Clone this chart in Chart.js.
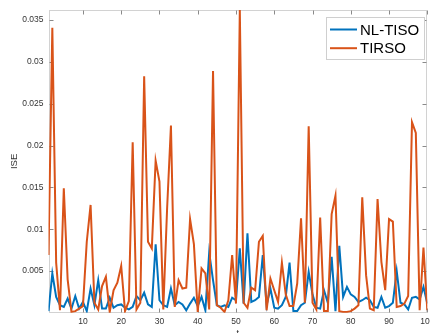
<!DOCTYPE html>
<html><head><meta charset="utf-8">
<script src="https://cdn.jsdelivr.net/npm/chart.js@4/dist/chart.umd.min.js"></script>
<style>
html,body{margin:0;padding:0;background:#fff;overflow:hidden;width:430px;height:333px}
#wrap{position:absolute;left:0;top:0;width:445px;height:350px}
</style>
</head><body><div id="wrap"><canvas id="c" width="445" height="350"></canvas></div>
<script>
const iterations = Array.from({length: 100}, (_, k) => k + 1);
const nlTiso = [
 0.0002, 0.0047, 0.0019, 0.0009, 0.0007, 0.0017, 0.0005, 0.0020, 0.0005, 0.0013,
 0.0002, 0.0029, 0.0009, 0.0039, 0.0005, 0.0005, 0.0018, 0.0006, 0.0009, 0.0010,
 0.0006, 0.0004, 0.0007, 0.0020, 0.0015, 0.0024, 0.0010, 0.0007, 0.0082, 0.0015,
 0.0009, 0.0007, 0.0029, 0.0009, 0.0013, 0.0010, 0.0003, 0.0011, 0.0018, 0.0008,
 0.0019, 0.0003, 0.0072, 0.0039, 0.0009, 0.0007, 0.0009, 0.0007, 0.0018, 0.0015,
 0.0077, 0.0011, 0.0095, 0.0013, 0.0015, 0.0019, 0.0069, 0.0009, 0.0029, 0.0006,
 0.0005, 0.0009, 0.0019, 0.0060, 0.0002, 0.0002, 0.0009, 0.0012, 0.0049, 0.0022,
 0.0006, 0.0005, 0.0027, 0.0012, 0.0067, 0.0002, 0.0080, 0.0019, 0.0031, 0.0022,
 0.0019, 0.0013, 0.0015, 0.0018, 0.0015, 0.0007, 0.0006, 0.0019, 0.0006, 0.0008,
 0.0012, 0.0050, 0.0012, 0.0010, 0.0004, 0.0018, 0.0019, 0.0016, 0.0031, 0.0011
];
const tirso = [
 0.0069, 0.0341, 0.0060, 0.0003, 0.0149, 0.0040, 0.0001, 0.0002, 0.0005, 0.0008,
 0.0085, 0.0129, 0.0012, 0.0004, 0.0032, 0.0043, 0.0001, 0.0027, 0.0036, 0.0056,
 0.0002, 0.0014, 0.0204, 0.0004, 0.0012, 0.0283, 0.0085, 0.0077, 0.0182, 0.0157,
 0.0004, 0.0125, 0.0224, 0.0007, 0.0039, 0.0029, 0.0030, 0.0112, 0.0082, 0.0001,
 0.0053, 0.0047, 0.0004, 0.0289, 0.0009, 0.0006, 0.0001, 0.0015, 0.0069, 0.0011,
 0.0362, 0.0012, 0.0006, 0.0030, 0.0027, 0.0085, 0.0092, 0.0003, 0.0041, 0.0027,
 0.0013, 0.0060, 0.0022, 0.0008, 0.0008, 0.0035, 0.0113, 0.0012, 0.0223, 0.0012,
 0.0004, 0.0114, 0.0002, 0.0002, 0.0118, 0.0140, 0.0002, 0.0001, 0.0001, 0.0002,
 0.0005, 0.0009, 0.0138, 0.0045, 0.0005, 0.0003, 0.0136, 0.0061, 0.0027, 0.0112,
 0.0109, 0.0007, 0.0008, 0.0011, 0.0020, 0.0228, 0.0215, 0.0003, 0.0078, 0.0003
];
const xTicks = [10, 20, 30, 40, 50, 60, 70, 80, 90, 100];
const yTicks = [0.005, 0.01, 0.015, 0.02, 0.025, 0.03, 0.035];
const seriesNames = ['NL-TISO', 'TIRSO'];
const seriesColors = ['#0072BD', '#D95319'];
const xTitle = 't';
const yTitle = 'ISE';

const FONT = "'Liberation Sans', Arial, Helvetica, sans-serif";

const framePlugin = {
  id: 'frame',
  beforeDatasetsDraw(chart) {
    const {ctx, chartArea: {left, right, top, bottom}, scales: {x, y}} = chart;
    const L = Math.round(left) + 0.5, R = Math.round(right) - 0.5;
    const T = Math.round(top) + 0.5, B = Math.round(bottom) - 0.5;
    ctx.save();
    ctx.lineWidth = 1;
    ctx.strokeStyle = '#d2d2d2';
    ctx.strokeRect(L, T, R - L, B - T);
    ctx.strokeStyle = '#8a8a8a';
    ctx.beginPath();
    const tl = 4;
    xTicks.forEach(v => {
      const px = Math.round(x.getPixelForValue(v)) + 0.5;
      ctx.moveTo(px, B); ctx.lineTo(px, B - tl);
      ctx.moveTo(px, T); ctx.lineTo(px, T + tl);
    });
    yTicks.forEach(v => {
      const py = Math.round(y.getPixelForValue(v)) + 0.5;
      ctx.moveTo(L, py); ctx.lineTo(L + tl, py);
      ctx.moveTo(R, py); ctx.lineTo(R - tl, py);
    });
    ctx.stroke();
    ctx.restore();
  }
};

const legendPlugin = {
  id: 'boxLegend',
  afterDatasetsDraw(chart) {
    const {ctx, chartArea: {right, top}} = chart;
    const bx = Math.round(right - 101.5) + 0.5, by = Math.round(top + 6.7) + 0.5;
    const bw = 98, bh = 42;
    ctx.save();
    ctx.fillStyle = '#ffffff';
    ctx.fillRect(bx, by, bw, bh);
    ctx.strokeStyle = '#cfcfcf';
    ctx.lineWidth = 1;
    ctx.strokeRect(bx, by, bw, bh);
    ctx.font = '15px ' + FONT;
    ctx.textBaseline = 'middle';
    ctx.textAlign = 'left';
    seriesNames.forEach((name, k) => {
      const cy = by + 12 + k * 18.7;
      ctx.strokeStyle = seriesColors[k];
      ctx.lineWidth = 2;
      ctx.beginPath();
      ctx.moveTo(bx + 3.5, cy); ctx.lineTo(bx + 30.5, cy);
      ctx.stroke();
      ctx.fillStyle = '#000000';
      ctx.fillText(name, bx + 33.5, cy + 1);
    });
    ctx.restore();
  }
};

new Chart(document.getElementById('c'), {
  type: 'line',
  data: {
    datasets: [
      {label: seriesNames[0], data: iterations.map((t, k) => ({x: t, y: nlTiso[k]})),
       borderColor: seriesColors[0], backgroundColor: seriesColors[0], borderWidth: 2,
       pointRadius: 0, tension: 0, clip: 0, order: 1, fill: false},
      {label: seriesNames[1], data: iterations.map((t, k) => ({x: t, y: tirso[k]})),
       borderColor: seriesColors[1], backgroundColor: seriesColors[1], borderWidth: 2,
       pointRadius: 0, tension: 0, clip: 0, order: 0, fill: false}
    ]
  },
  options: {
    responsive: false,
    animation: false,
    events: [],
    layout: {padding: {left: 0, right: 17.7, top: 10, bottom: 0}},
    plugins: {legend: {display: false}, tooltip: {enabled: false}},
    scales: {
      x: {
        type: 'linear', min: 1, max: 100,
        afterBuildTicks: s => { s.ticks = xTicks.map(v => ({value: v})); },
        afterFit: s => { s.height = 37.3; },
        grid: {display: false, drawTicks: false},
        border: {display: false},
        ticks: {padding: 4, color: '#333333', autoSkip: false, maxRotation: 0,
                font: {family: FONT, size: 8.5}},
        title: {display: true, text: xTitle, color: '#333333',
                font: {family: FONT, size: 9.5}, padding: {top: 0, bottom: 10.6}}
      },
      y: {
        type: 'linear', min: 0.00001, max: 0.0362,
        afterBuildTicks: s => { s.ticks = yTicks.map(v => ({value: v})); },
        afterFit: s => { s.width = 48.5; },
        grid: {display: false, drawTicks: false},
        border: {display: false},
        ticks: {padding: 5, color: '#333333', font: {family: FONT, size: 8.5},
                callback: v => String(+v.toFixed(3))},
        title: {display: true, text: yTitle, color: '#333333',
                font: {family: FONT, size: 9.5}, padding: {top: 8.6, bottom: 0}}
      }
    }
  },
  plugins: [framePlugin, legendPlugin]
});
</script>
</body></html>
